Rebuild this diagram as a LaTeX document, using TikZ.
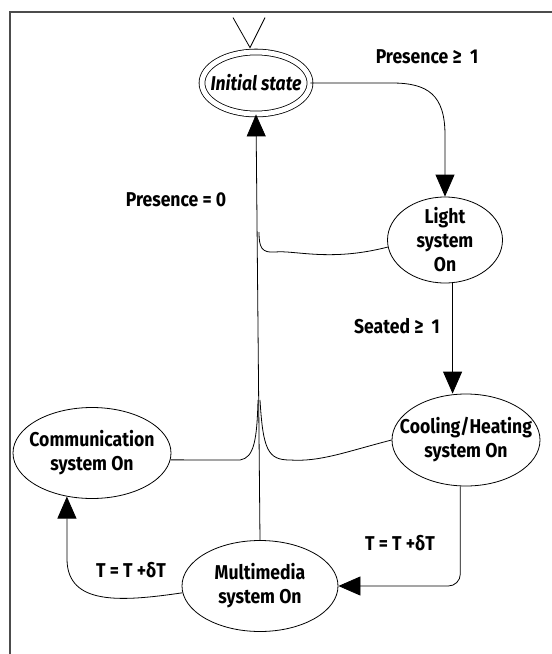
\documentclass[tikz,border=0pt]{standalone}
\usepackage{fontspec}
\setmainfont[FakeStretch=0.88]{Fira Sans}
\usetikzlibrary{shapes.geometric,arrows.meta}

\begin{document}
\begin{tikzpicture}[x=1pt,y=-1pt,line width=0.8pt,
  state/.style={draw,ellipse,inner xsep=-20pt,inner ysep=-6pt,align=center,
    font=\bfseries\fontsize{20}{24}\selectfont},
  lbl/.style={font=\bfseries\fontsize{20}{24}\selectfont},
  >={Triangle[length=22pt,width=19pt]}]
\useasboundingbox (0,0) rectangle (552,654);
\draw[line width=2pt,black!70] (10,654) -- (10,12) -- (552,12);

\node[state,double,double distance=5pt,minimum width=108pt,minimum height=62pt] (init) at (256,83) {\itshape Initial state};
\node[state,minimum width=115pt,minimum height=86pt] (light) at (445,240) {Light\\system\\On};
\node[state,minimum width=148pt,minimum height=92pt] (cool) at (466,440) {Cooling/Heating\\system On};
\node[state,minimum width=158pt,minimum height=91pt] (comm) at (92,453) {Communication\\system On};
\node[state,minimum width=156pt,minimum height=91pt] (media) at (260,586) {Multimedia\\system On};

% start marker
\draw ([xshift=-6pt,yshift=4pt]init.north) coordinate (vtip) ++(-17,-30) -- (vtip) -- ++(15,-30);

\draw[->] (init.east) -- (392,83) .. controls (428,83) and (445,95) .. (445,135) -- (light.north);
\draw[->] (light.-80) -- (light.-80 |- cool.north);
\draw[->] (media.north) -- (init.south);
\draw (light.187) .. controls (330,262) and (295,250) .. (275,252) .. controls (262,253) and (259,248) .. (259,232);
\draw (cool.west) .. controls (345,452) and (320,462) .. (290,460) .. controls (268,460) and (263,450) .. (260,400);
\draw (comm.-5) -- (240,460) .. controls (254,458) and (257,440) .. (258,400);
\draw[->,rounded corners=12pt] (cool.-97) |- (media.east);
\draw[->] (media.185) .. controls (120,602) and (68,605) .. (67,560) -- (comm.-120);

\node[lbl] (pres1) at (427,57) {Presence ≥\ \ 1};
\node[lbl] (seat) at (397,326) {Seated ≥\ \ 1};
\node[lbl] (pres0) at (176,200) {Presence = 0};
\node[lbl] (tright) at (400,543) {T = T +δT};
\node[lbl] (tleft) at (131,570) {T = T +δT};
\end{tikzpicture}
\end{document}
